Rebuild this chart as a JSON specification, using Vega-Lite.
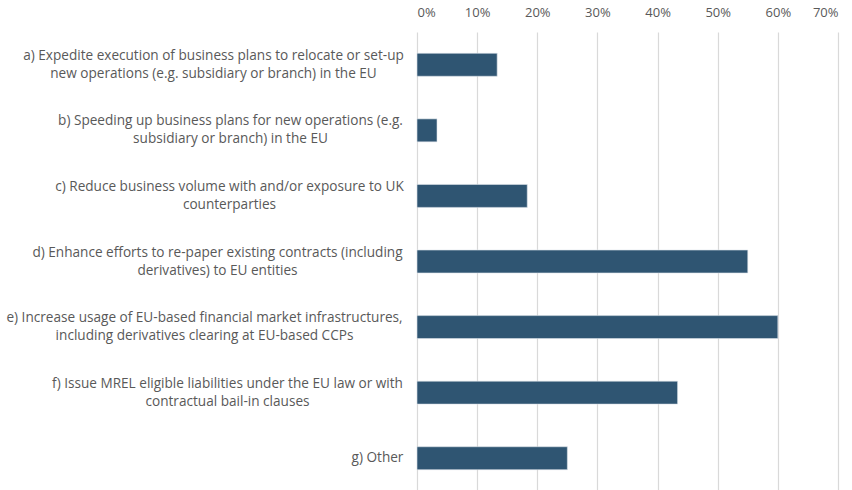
{
  "$schema": "https://vega.github.io/schema/vega-lite/v6.json",
  "width": 421,
  "height": 459,
  "autosize": "none",
  "padding": {"left": 417, "top": 32, "right": 14, "bottom": 0},
  "background": "white",
  "data": {
    "values": [
      {"label": "a) Expedite execution of business plans to relocate or set-up|new operations (e.g. subsidiary or branch) in the EU", "share": 0.1333},
      {"label": "b) Speeding up business plans for new operations (e.g.|subsidiary or branch) in the EU", "share": 0.0333},
      {"label": "c) Reduce business volume with and/or exposure to UK|counterparties", "share": 0.1833},
      {"label": "d) Enhance efforts to re-paper existing contracts (including|derivatives) to EU entities", "share": 0.55},
      {"label": "e) Increase usage of EU-based financial market infrastructures,|including derivatives clearing at EU-based CCPs", "share": 0.60},
      {"label": "f) Issue MREL eligible liabilities under the EU law or with|contractual bail-in clauses", "share": 0.4333},
      {"label": "g) Other", "share": 0.25}
    ]
  },
  "mark": {"type": "bar", "color": "#2F5572", "stroke": "#dce3ea", "strokeWidth": 0.6},
  "encoding": {
    "y": {
      "field": "label",
      "type": "nominal",
      "sort": null,
      "title": null,
      "scale": {"paddingInner": 0.65, "paddingOuter": 0.325},
      "axis": {
        "labelExpr": "split(datum.label, '|')",
        "labelFont": "Open Sans",
        "labelFontSize": 13.6,
        "labelColor": "#595959",
        "labelLineHeight": 18,
        "labelAlign": "center",
        "labelOffset": {
          "condition": {"test": "slice(datum.value, 0, 2) != 'g)'", "value": -9},
          "value": 0
        },
        "labelPadding": {
          "condition": [
            {"test": "slice(datum.value, 0, 2) == 'a)'", "value": 204},
            {"test": "slice(datum.value, 0, 2) == 'b)'", "value": 187},
            {"test": "slice(datum.value, 0, 2) == 'c)'", "value": 188},
            {"test": "slice(datum.value, 0, 2) == 'd)'", "value": 200},
            {"test": "slice(datum.value, 0, 2) == 'e)'", "value": 213},
            {"test": "slice(datum.value, 0, 2) == 'f)'", "value": 190}
          ],
          "value": 40
        },
        "labelLimit": 420,
        "ticks": false,
        "domain": false,
        "grid": false
      }
    },
    "x": {
      "field": "share",
      "type": "quantitative",
      "title": null,
      "scale": {"domain": [0, 0.7], "nice": false},
      "axis": {
        "orient": "top",
        "format": ".0%",
        "values": [0, 0.1, 0.2, 0.3, 0.4, 0.5, 0.6, 0.7],
        "labelFont": "Open Sans",
        "labelFontSize": 13,
        "labelColor": "#595959",
        "labelPadding": 13,
        "ticks": false,
        "domain": false,
        "grid": true,
        "gridColor": "#d9d9d9",
        "gridWidth": 1.2
      }
    }
  },
  "config": {"view": {"stroke": null}}
}
